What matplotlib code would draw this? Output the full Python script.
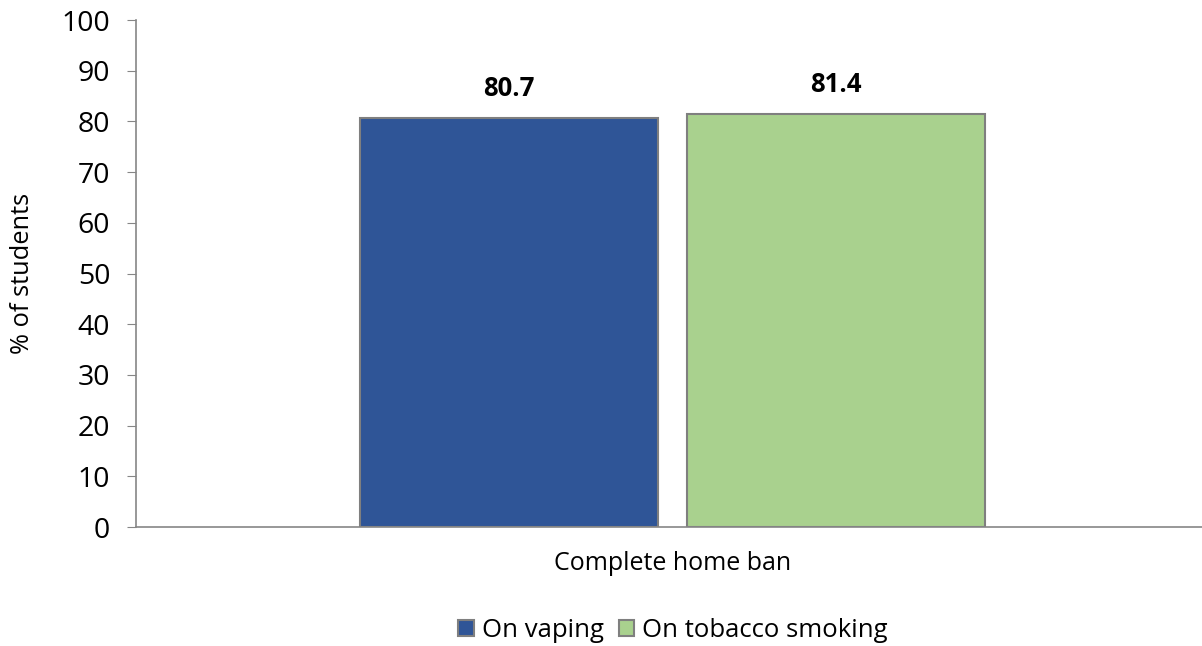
import matplotlib.pyplot as plt

# data
category = "Complete home ban"
series = ["On vaping", "On tobacco smoking"]
values = [80.7, 81.4]
colors = ["#2F5597", "#A9D18E"]
yticks = [0, 10, 20, 30, 40, 50, 60, 70, 80, 90, 100]

plt.rcParams['font.family'] = ['Open Sans', 'DejaVu Sans']

fig = plt.figure(figsize=(12.02, 6.46), dpi=100)
ax = fig.add_axes([0.1131, 0.1842, 0.8869, 0.7848])

offsets = [-0.1535, 0.1535]
width = 0.2795
for off, v, c, name in zip(offsets, values, colors, series):
    ax.bar(off, v, width=width, color=c, edgecolor="#7F7F7F", linewidth=1.5, label=name)
    ax.text(off, v + 5.8, f"{v:.1f}", ha="center", va="center", fontsize=18.5, fontweight="bold")

ax.set_xlim(-0.5035, 0.4965)
ax.set_ylim(0, 100)
ax.set_yticks(yticks)
ax.tick_params(axis="y", labelsize=20.5, length=6.5, color="#868686", pad=12)
ax.set_xticks([0])
ax.set_xticklabels([category], fontsize=18)
ax.tick_params(axis="x", length=0, pad=17)

for s in ["top", "right"]:
    ax.spines[s].set_visible(False)
ax.spines["left"].set_color("#868686")
ax.spines["bottom"].set_color("#868686")
ax.spines["left"].set_linewidth(1.2)
ax.spines["bottom"].set_linewidth(1.2)

ax.set_ylabel("% of students", fontsize=18.3, labelpad=19)

fig.legend(loc="center", bbox_to_anchor=(0.56, 0.024), ncol=2, frameon=False,
           fontsize=18.5, handlelength=0.6, handleheight=0.6, handletextpad=0.3,
           columnspacing=0.6)

fig.savefig("out.png", dpi=100)
